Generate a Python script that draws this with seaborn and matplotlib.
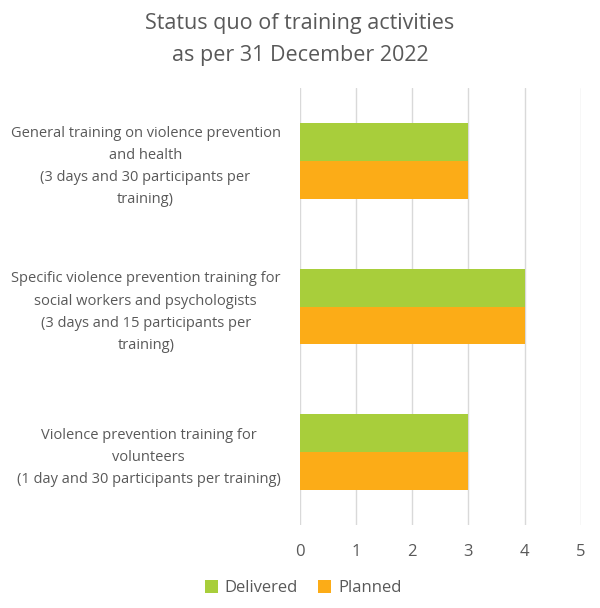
import pandas as pd
import seaborn as sns
import matplotlib.pyplot as plt

categories = [
    "General training on violence prevention\nand health\n(3 days and 30 participants per\ntraining)",
    "Specific violence prevention training for\nsocial workers and psychologists\n(3 days and 15 participants per\ntraining)",
    "Violence prevention training for\nvolunteers\n(1 day and 30 participants per training)",
]
delivered = [3, 4, 3]
planned = [3, 4, 3]

df = pd.DataFrame({
    "training": categories * 2,
    "status": ["Delivered"] * 3 + ["Planned"] * 3,
    "count": delivered + planned,
})

sns.set_style("white")
plt.rcParams["font.family"] = ["Open Sans", "DejaVu Sans"]
text_col = "#595959"

fig = plt.figure(figsize=(6, 6.08), dpi=100)
ax = fig.add_axes([0.5, 0.1365, 0.468, 0.7185])

sns.barplot(data=df, x="count", y="training", hue="status", orient="h",
            palette={"Delivered": "#A8CE3B", "Planned": "#FCAC17"},
            width=0.52, saturation=1, linewidth=0, ax=ax, legend=True)

ax.set_xlim(0, 5)
ax.set_xticks(range(6))
ax.grid(axis="x", color="#D9D9D9", linewidth=1)
ax.set_axisbelow(True)
for s in ax.spines.values():
    s.set_visible(False)
ax.set_xlabel("")
ax.set_ylabel("")
ax.tick_params(axis="x", length=0, pad=14, labelsize=12, labelcolor=text_col)
ax.tick_params(axis="y", length=0, pad=14, labelsize=10.5, labelcolor=text_col)
for lab in ax.get_yticklabels():
    lab.set_multialignment("center")
    lab.set_linespacing(1.65)

handles, labels = ax.get_legend_handles_labels()
ax.legend_.remove()
fig.legend(handles, labels, loc="center", bbox_to_anchor=(0.505, 0.033), ncol=2,
           frameon=False, handlelength=0.8, handleheight=0.8, handletextpad=0.4,
           columnspacing=1.2, fontsize=12, labelcolor=text_col)

fig.suptitle("Status quo of training activities\nas per 31 December 2022",
             x=0.5, y=0.978, fontsize=15.5, color=text_col, linespacing=1.65)

fig.savefig("out.png", dpi=100)
